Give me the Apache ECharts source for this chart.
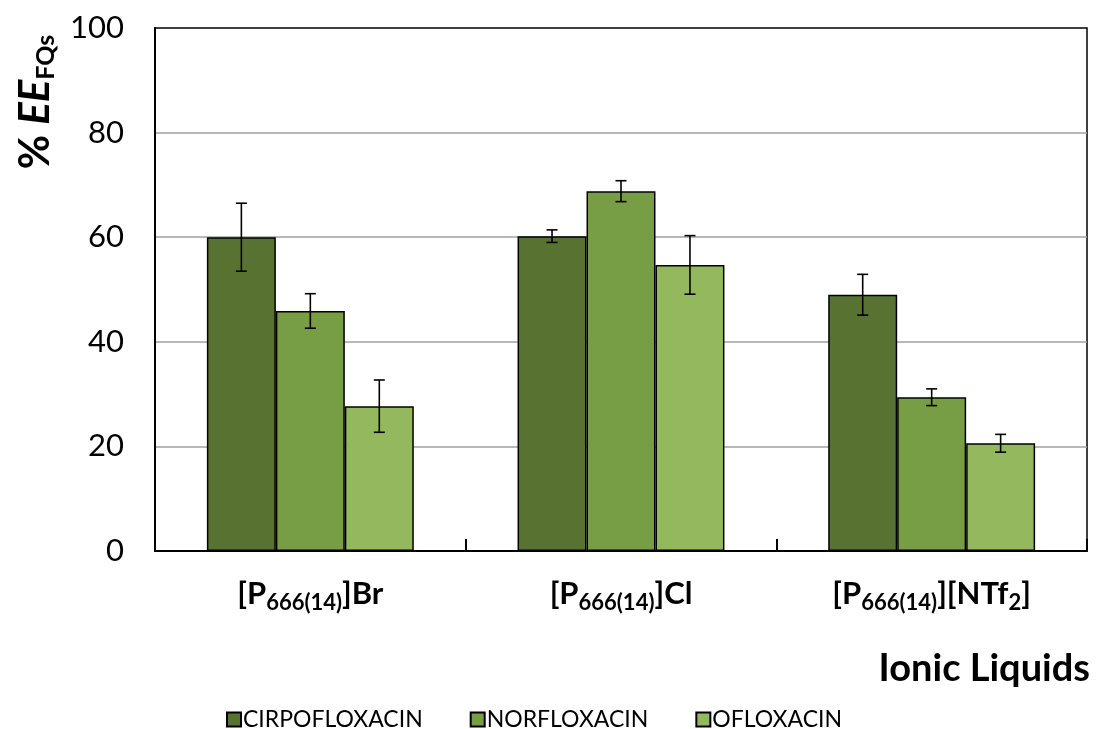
<!DOCTYPE html>
<html>
<head>
<meta charset="utf-8">
<script src="https://cdn.jsdelivr.net/npm/echarts@6/dist/echarts.min.js"></script>
<style>html,body{margin:0;padding:0;background:#fff}#c{width:1096px;height:729px}</style>
</head>
<body>
<div id="c"></div>
<script>
// ---- data ----
var categories = ['[P_{666(14)}]Br', '[P_{666(14)}]Cl', '[P_{666(14)}][NTf_{2}]'];
var seriesNames = ['CIRPOFLOXACIN', 'NORFLOXACIN', 'OFLOXACIN'];
var ciproValues = [60.0, 60.2, 49.0];
var ciproErrors = [6.5, 1.2, 3.9];
var norValues = [45.9, 68.8, 29.4];
var norErrors = [3.3, 2.0, 1.6];
var oflValues = [27.7, 54.7, 20.6];
var oflErrors = [5.0, 5.6, 1.7];
var yTicks = [0, 20, 40, 60, 80, 100];

var values = [ciproValues, norValues, oflValues];
var errors = [ciproErrors, norErrors, oflErrors];
var colors = ['#587232', '#779D45', '#93B85E'];
var FONT = 'Lato, "Open Sans", sans-serif';
var BAR_FRAC = 0.222;

function richLabel(s) {
  var out = '';
  var re = /_\{([^}]*)\}/g, last = 0, m;
  while ((m = re.exec(s)) !== null) {
    if (m.index > last) out += '{m|' + s.slice(last, m.index) + '}';
    out += '{s|' + m[1] + '}';
    last = re.lastIndex;
  }
  if (last < s.length) out += '{m|' + s.slice(last) + '}';
  return out;
}

var chart = echarts.init(document.getElementById('c'), null, {renderer: 'canvas'});

var series = [];
for (var i = 0; i < 3; i++) {
  series.push({
    name: seriesNames[i],
    type: 'bar',
    data: values[i],
    barWidth: (BAR_FRAC * 100) + '%',
    barGap: '0%',
    itemStyle: {color: colors[i], borderColor: '#000', borderWidth: 1.5},
    emphasis: {disabled: true},
    z: 2
  });
}
for (var k = 0; k < 3; k++) {
  (function (idx) {
    var d = [];
    for (var c = 0; c < categories.length; c++) d.push([c, values[idx][c], errors[idx][c]]);
    series.push({
      type: 'custom',
      name: seriesNames[idx] + '_err',
      data: d,
      z: 5,
      silent: true,
      encode: {x: 0, y: 1},
      renderItem: function (params, api) {
        var ci = api.value(0), v = api.value(1), e = api.value(2);
        var band = api.size([1, 0])[0];
        var off = (idx - 1) * band * BAR_FRAC;
        var top = api.coord([ci, v + e]);
        var bot = api.coord([ci, v - e]);
        var x = top[0] + off;
        var cap = 5.5;
        var st = {stroke: '#000', lineWidth: 1.6};
        return {
          type: 'group',
          children: [
            {type: 'line', shape: {x1: x, y1: top[1], x2: x, y2: bot[1]}, style: st},
            {type: 'line', shape: {x1: x - cap, y1: top[1], x2: x + cap, y2: top[1]}, style: st},
            {type: 'line', shape: {x1: x - cap, y1: bot[1], x2: x + cap, y2: bot[1]}, style: st}
          ]
        };
      }
    });
  })(k);
}

var option = {
  animation: false,
  backgroundColor: '#fff',
  textStyle: {fontFamily: FONT},
  grid: {left: 155, right: 9, top: 28, bottom: 178, show: true, borderColor: '#000', borderWidth: 1.5, backgroundColor: 'transparent'},
  legend: {
    data: seriesNames,
    left: 221, top: 703,
    itemWidth: 14, itemHeight: 14, itemGap: 47,
    icon: 'rect',
    textStyle: {fontSize: 23, color: '#000', fontFamily: FONT, padding: [0, 0, 0, -3]},
    selectedMode: false
  },
  xAxis: {
    type: 'category',
    data: categories,
    axisLine: {lineStyle: {color: '#000', width: 2}},
    axisTick: {show: true, inside: true, length: 12, interval: 0, lineStyle: {color: '#000', width: 2}},
    axisLabel: {
      interval: 0,
      margin: 27,
      formatter: function (v) { return richLabel(v); },
      rich: {
        m: {fontSize: 31, fontWeight: 'bold', color: '#000', fontFamily: FONT, lineHeight: 36, verticalAlign: 'top'},
        s: {fontSize: 22, fontWeight: 'bold', color: '#000', fontFamily: FONT, lineHeight: 22, padding: [24, 0, 0, 0], verticalAlign: 'bottom'}
      }
    },
    splitLine: {show: false}
  },
  yAxis: {
    type: 'value',
    min: 0, max: 100, interval: 20,
    axisLine: {show: true, lineStyle: {color: '#000', width: 2}},
    axisTick: {show: false},
    axisLabel: {fontSize: 31, color: '#000', margin: 31, fontFamily: FONT,
      formatter: function (v) { return yTicks.indexOf(v) >= 0 ? String(v) : ''; }},
    splitLine: {show: true, showMaxLine: false, lineStyle: {color: '#A0A0A0', width: 1.5}}
  },
  graphic: [
    {
      type: 'text',
      x: 36, y: 102,
      rotation: Math.PI / 2,
      style: {
        text: '{p|% }{e|EE}{s|FQs}',
        align: 'center', verticalAlign: 'middle',
        rich: {
          p: {fontSize: 42, fontWeight: 'bold', fill: '#000', fontFamily: FONT, lineHeight: 44, verticalAlign: 'top'},
          e: {fontSize: 42, fontWeight: 'bold', fontStyle: 'italic', fill: '#000', fontFamily: FONT, lineHeight: 44, verticalAlign: 'top'},
          s: {fontSize: 25, fontWeight: 'bold', fill: '#000', fontFamily: FONT, lineHeight: 25, padding: [29, 0, 0, 0], verticalAlign: 'bottom'}
        }
      }
    },
    {
      type: 'text',
      right: 6, top: 650,
      style: {text: 'Ionic Liquids', fontSize: 38, fontWeight: 'bold', fill: '#000', fontFamily: FONT}
    }
  ],
  series: series
};
chart.setOption(option);
</script>
</body>
</html>
